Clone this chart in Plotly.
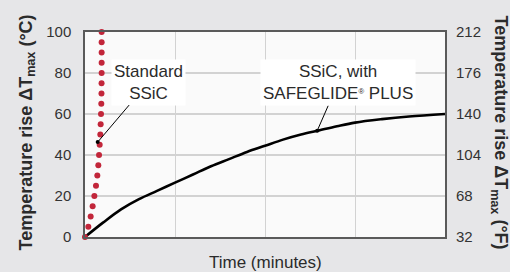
import plotly.graph_objects as go

# Data (time in minutes, temperature rise in °C)
std_time = [0, 0.37, 0.63, 0.85, 1.04, 1.22, 1.37, 1.48, 1.56, 1.63, 1.70,
            1.74, 1.78, 1.81, 1.83, 1.84, 1.85, 1.85, 1.85, 1.85, 1.85]
std_temp = [0, 5, 10, 15, 20, 25, 30, 35, 40, 45, 50,
            55, 60, 65, 70, 75, 80, 85, 90, 95, 100]

sg_time = [0, 2, 4, 6, 8, 10, 12, 14, 16, 18, 20, 22, 24, 26, 28, 30, 33, 36, 40]
sg_temp = [0, 7, 13.5, 18.5, 22.5, 26.5, 30.5, 34.5, 38, 41.5, 44.5, 47.5,
           50, 52, 54, 55.8, 57.5, 58.8, 60]

y_c_ticks = [0, 20, 40, 60, 80, 100]
y_f_ticks = [32, 68, 104, 140, 176, 212]

FONT = "Liberation Sans, Arial, Helvetica, sans-serif"
TXT = "#2b2b2b"
AXC = "#5a5a5a"
GRID = "#d2d2d2"

fig = go.Figure()
fig.add_trace(go.Scatter(
    x=sg_time, y=sg_temp, mode="lines", line=dict(color="black", width=2.6, shape="spline"),
    showlegend=False, cliponaxis=False, hoverinfo="skip"))
fig.add_trace(go.Scatter(
    x=std_time, y=std_temp, mode="markers", marker=dict(color="#c2263a", size=6),
    showlegend=False, cliponaxis=False, hoverinfo="skip"))
# invisible trace for secondary axis
fig.add_trace(go.Scatter(x=[0], y=[32], yaxis="y2", mode="markers",
                         marker=dict(opacity=0), showlegend=False, hoverinfo="skip"))

fig.update_layout(
    width=510, height=272,
    margin=dict(l=85, r=65, t=32, b=35, pad=0),
    paper_bgcolor="#e6e6e8", plot_bgcolor="#fafafa",
    font=dict(family=FONT, color=TXT, size=15),
    xaxis=dict(range=[0, 40], dtick=10, showticklabels=False, ticks="",
               showgrid=True, gridcolor=GRID, gridwidth=1, zeroline=False,
               showline=True, linecolor=AXC, linewidth=1.5, mirror=True),
    yaxis=dict(range=[0, 100], tickvals=y_c_ticks, ticks="", showgrid=True,
               gridcolor=GRID, gridwidth=1.5, zeroline=False, showline=True,
               linecolor=AXC, linewidth=1.5, mirror=True, ticklabelstandoff=9,
               tickfont=dict(size=15, color="#333")),
    yaxis2=dict(range=[32, 212], tickvals=y_f_ticks, overlaying="y", side="right",
                showgrid=False, zeroline=False, ticks="", showline=False,
                ticklabelstandoff=10, tickfont=dict(size=15, color="#333")),
)

annotations = [
    dict(x=1.41, y=46.3, xref="x", yref="y", text="Standard<br>SSiC",
         showarrow=True, ax=51, ay=-60, arrowhead=6, arrowsize=1, arrowwidth=1,
         arrowcolor="black", bgcolor="white", borderpad=2,
         font=dict(size=17, color=TXT)),
    dict(x=25.8, y=51.8, xref="x", yref="y",
         text="SSiC, with<br>SAFEGLIDE<span style='font-size:11px'><sup>®</sup></span> PLUS",
         showarrow=True, ax=21, ay=-48, arrowhead=6, arrowsize=1, arrowwidth=1,
         arrowcolor="black", bgcolor="white", borderpad=2,
         font=dict(size=17, color=TXT)),
    dict(x=0, y=0.5, xref="paper", yref="paper", xshift=-58, yshift=2,
         text="<b>Temperature rise ΔT<sub>max</sub> (°C)</b>", textangle=-90,
         showarrow=False, xanchor="center", yanchor="middle",
         font=dict(size=18, color=TXT)),
    dict(x=1, y=0.5, xref="paper", yref="paper", xshift=54, yshift=2,
         text="<b>Temperature rise ΔT<sub>max</sub> (°F)</b>", textangle=90,
         showarrow=False, xanchor="center", yanchor="middle",
         font=dict(size=18, color=TXT)),
    dict(x=0.5, y=0, xref="paper", yref="paper", yshift=-14,
         text="Time (minutes)", showarrow=False, xanchor="center", yanchor="top",
         font=dict(size=17, color=TXT)),
]
fig.update_layout(annotations=annotations)

fig.write_html("out.html", config={"displayModeBar": False},
               post_script="document.body.style.margin='0';document.body.style.background='#e6e6e8';")
